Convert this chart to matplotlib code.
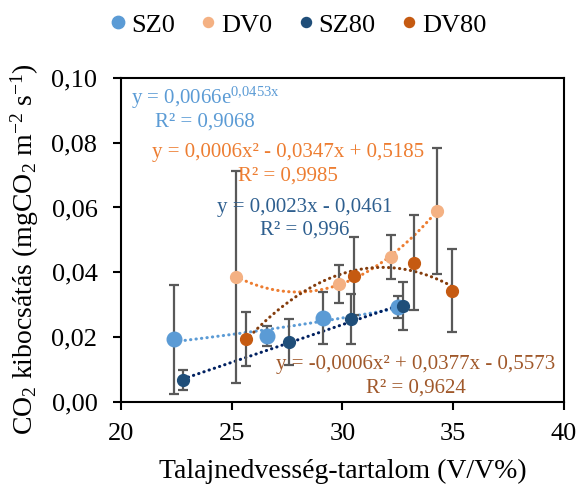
import matplotlib
matplotlib.use('Agg')
import matplotlib.pyplot as plt
import numpy as np

plt.rcParams['font.family'] = 'Liberation Serif'
plt.rcParams['mathtext.fontset'] = 'custom'
plt.rcParams['mathtext.rm'] = 'Liberation Serif'
plt.rcParams['mathtext.it'] = 'Liberation Serif:italic'

# values
sz0_x = [22.4, 26.6, 29.1, 32.5]
sz0_y = [0.0193, 0.0203, 0.0259, 0.0292]
sz0_err = [0.0168, 0.0032, 0.0080, 0.0035]

dv0_x = [25.2, 29.85, 32.2, 34.25]
dv0_y = [0.0386, 0.0364, 0.0448, 0.0589]
dv0_err = [0.0327, 0.0058, 0.0068, 0.0195]

sz80_x = [22.8, 27.6, 30.4, 32.75]
sz80_y = [0.0067, 0.0185, 0.0255, 0.0295]
sz80_err = [0.0030, 0.0071, 0.0078, 0.0075]

dv80_x = [25.65, 30.5, 33.25, 34.95]
dv80_y = [0.0193, 0.0389, 0.0429, 0.0343]
dv80_err = [0.0083, 0.0121, 0.0147, 0.0128]

xticks = [20, 25, 30, 35, 40]
yticks = [0.0, 0.02, 0.04, 0.06, 0.08, 0.10]

dotted = (0, (0.1, 1.7))
errcol = '#595959'

fig = plt.figure(figsize=(5.79, 4.86), dpi=100)
ax = fig.add_axes([0.209, 0.1735, 0.765, 0.666])

#trendlines (Excel style, fitted to the data)
def trend(x, y, kind, color):
    x = np.asarray(x); y = np.asarray(y)
    xs = np.linspace(x.min(), x.max(), 200)
    if kind == 'exp':
        b, a = np.polyfit(x, np.log(y), 1)
        ys = np.exp(a) * np.exp(b * xs)
    elif kind == 'lin':
        ys = np.polyval(np.polyfit(x, y, 1), xs)
    else:
        ys = np.polyval(np.polyfit(x, y, 2), xs)
    ax.plot(xs, ys, linestyle=dotted, color=color, lw=2.2,
            dash_capstyle='round', zorder=2)

trend(sz0_x, sz0_y, 'exp', '#5B9BD5')
trend(dv0_x, dv0_y, 'poly', '#ED7D31')
trend(sz80_x, sz80_y, 'lin', '#002060')
trend(dv80_x, dv80_y, 'poly', '#843C0C')

series = [
    (sz0_x, sz0_y, sz0_err, '#5B9BD5', 10.5, 'SZ0'),
    (dv0_x, dv0_y, dv0_err, '#F4B183', 8.5, 'DV0'),
    (sz80_x, sz80_y, sz80_err, '#1F4E79', 8.5, 'SZ80'),
    (dv80_x, dv80_y, dv80_err, '#C55A11', 8.5, 'DV80'),
]
handles = []
for x, y, e, c, ms, lab in series:
    ax.errorbar(x, y, yerr=e, fmt='none', ecolor=errcol, elinewidth=1.6,
                capsize=3.5, capthick=1.6, zorder=3)
    h, = ax.plot(x, y, 'o', color=c, ms=ms, mec=c, zorder=4, label=lab)
    handles.append(h)

#equations
fs = 15
ax.text(23.79, 0.0938, r'y = 0,0066e$^{\mathrm{0{,}0453x}}$', color='#5B9BD5',
        fontsize=fs, ha='center', va='center')
ax.text(23.79, 0.0864, 'R² = 0,9068', color='#5B9BD5', fontsize=fs,
        ha='center', va='center')
ax.text(27.54, 0.0771, 'y = 0,0006x² - 0,0347x + 0,5185', color='#ED7D31',
        fontsize=fs, ha='center', va='center')
ax.text(27.54, 0.0697, 'R² = 0,9985', color='#ED7D31', fontsize=fs,
        ha='center', va='center')
ax.text(28.31, 0.0601, 'y = 0,0023x - 0,0461', color='#2E5F8F', fontsize=fs,
        ha='center', va='center')
ax.text(28.31, 0.0530, 'R² = 0,996', color='#2E5F8F', fontsize=fs,
        ha='center', va='center')
ax.text(33.32, 0.0116, 'y = -0,0006x² + 0,0377x - 0,5573', color='#A0582A',
        fontsize=fs, ha='center', va='center')
ax.text(33.32, 0.0042, 'R² = 0,9624', color='#A0582A', fontsize=fs,
        ha='center', va='center')

ax.set_xlim(20, 40)
ax.set_ylim(0, 0.10)
ax.set_xticks(xticks)
ax.set_yticks(yticks)
ax.set_xticklabels([str(t) for t in xticks])
ax.set_yticklabels([('%.2f' % t).replace('.', ',') for t in yticks])
ax.tick_params(direction='out', length=6, width=1.5, labelsize=19)
ax.tick_params(axis='x', pad=9)
ax.tick_params(axis='y', pad=11)
for s in ax.spines.values():
    s.set_linewidth(1.5)
    s.set_color('black')

ax.set_xlabel('Talajnedvesség-tartalom (V/V%)', fontsize=20, va='baseline')
ax.xaxis.set_label_coords(0.5, -0.237)
ax.set_ylabel(r'CO$_2$ kibocsátás (mgCO$_2$ m$^{-2}$ s$^{-1}$)', fontsize=20,
              va='center')
ax.yaxis.set_label_coords(-0.217, 0.47)

fig.legend(handles=handles, loc='center', bbox_to_anchor=(0.513, 0.949), ncol=4,
           frameon=False, fontsize=19, markerscale=0.85, handletextpad=0.1,
           columnspacing=0.85, handlelength=0.8)

fig.savefig('out.png', dpi=100)
